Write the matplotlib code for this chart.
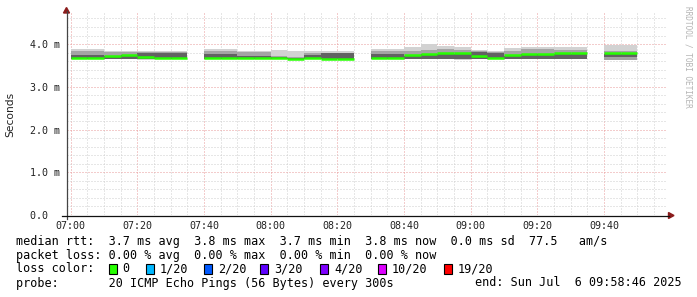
import numpy as np
import matplotlib
matplotlib.use("Agg")
import matplotlib.pyplot as plt
from matplotlib.lines import Line2D
from matplotlib.patches import Rectangle, Polygon

W, H, DPI = 697, 297, 100
nan = np.nan

# ---- data (5-minute bins, start times) ----
bin_start = ["07:00", "07:05", "07:10", "07:15", "07:20", "07:25", "07:30", "07:35",
             "07:40", "07:45", "07:50", "07:55", "08:00", "08:05", "08:10", "08:15",
             "08:20", "08:25", "08:30", "08:35", "08:40", "08:45", "08:50", "08:55",
             "09:00", "09:05", "09:10", "09:15", "09:20", "09:25", "09:30", "09:35",
             "09:40", "09:45"]
# values in ms
rtt_max = [3.88, 3.88, 3.83, 3.83, 3.83, 3.83, 3.83, nan,
           3.88, 3.88, 3.84, 3.84, 3.86, 3.83, 3.83, 3.83,
           3.83, nan, 3.88, 3.88, 3.93, 4.00, 3.95, 3.92,
           3.86, 3.83, 3.91, 3.93, 3.93, 3.92, 3.92, nan,
           3.97, 3.97]
rtt_upper = [3.83, 3.83, 3.81, 3.81, 3.81, 3.81, 3.81, nan,
             3.84, 3.84, 3.81, 3.81, 3.71, 3.70, 3.80, 3.80,
             3.80, nan, 3.84, 3.84, 3.84, 3.87, 3.89, 3.87,
             3.83, 3.81, 3.84, 3.89, 3.89, 3.86, 3.86, nan,
             3.84, 3.84]
rtt_core_hi = [3.75, 3.75, 3.73, 3.74, 3.79, 3.78, 3.78, nan,
               3.77, 3.77, 3.72, 3.72, 3.69, 3.68, 3.75, 3.78,
               3.78, nan, 3.77, 3.77, 3.72, 3.76, 3.77, 3.77,
               3.81, 3.80, 3.72, 3.76, 3.76, 3.77, 3.77, nan,
               3.77, 3.77]
rtt_core_lo = [3.655, 3.655, 3.655, 3.655, 3.655, 3.655, 3.655, nan,
               3.655, 3.655, 3.655, 3.655, 3.655, 3.655, 3.655, 3.655,
               3.655, nan, 3.655, 3.655, 3.655, 3.655, 3.655, 3.655,
               3.655, 3.655, 3.655, 3.655, 3.655, 3.655, 3.655, nan,
               3.70, 3.70]
rtt_lower = [3.645, 3.645, 3.645, 3.645, 3.645, 3.645, 3.645, nan,
             3.645, 3.645, 3.645, 3.645, 3.645, 3.645, 3.645, 3.645,
             3.645, nan, 3.645, 3.645, 3.645, 3.645, 3.645, 3.64,
             3.645, 3.645, 3.645, 3.645, 3.645, 3.645, 3.645, nan,
             3.635, 3.635]
rtt_min = [3.64, 3.64, 3.64, 3.64, 3.635, 3.64, 3.64, nan,
           3.64, 3.64, 3.64, 3.64, 3.64, 3.64, 3.64, 3.64,
           3.64, nan, 3.64, 3.64, 3.645, 3.645, 3.645, 3.633,
           3.64, 3.64, 3.645, 3.64, 3.64, 3.64, 3.64, nan,
           3.633, 3.633]
rtt_median = [3.67, 3.67, 3.73, 3.755, 3.70, 3.67, 3.67, nan,
              3.67, 3.67, 3.67, 3.67, 3.665, 3.66, 3.665, 3.655,
              3.655, nan, 3.67, 3.67, 3.746, 3.775, 3.79, 3.79,
              3.71, 3.67, 3.745, 3.775, 3.775, 3.78, 3.78, nan,
              3.79, 3.79]

x_tick_labels = ["07:00", "07:20", "07:40", "08:00", "08:20", "08:40", "09:00", "09:20", "09:40"]
y_tick_values = [0.0, 1.0, 2.0, 3.0, 4.0]
y_tick_labels = ["0.0  ", "1.0 m", "2.0 m", "3.0 m", "4.0 m"]

loss_labels = ["0", "1/20", "2/20", "3/20", "4/20", "10/20", "19/20"]
loss_colors = ["#26ff00", "#00b8ff", "#0059ff", "#5e00ff", "#7e00ff", "#dd00ff", "#ff0000"]

legend_lines = [
    "median rtt:  3.7 ms avg  3.8 ms max  3.7 ms min  3.8 ms now  0.0 ms sd  77.5   am/s",
    "packet loss: 0.00 % avg  0.00 % max  0.00 % min  0.00 % now",
]
probe_text = "probe:       20 ICMP Echo Pings (56 Bytes) every 300s"
end_text = "end: Sun Jul  6 09:58:46 2025"

# ---- helpers ----
def to_min(s):
    h, m = s.split(":")
    return (int(h) - 7) * 60 + int(m)

def fx(px):
    return px / W

def fy(py):
    return 1 - py / H

MONO = "DejaVu Sans Mono"

fig = plt.figure(figsize=(W / DPI, H / DPI), dpi=DPI)
fig.patch.set_facecolor("white")
ax = fig.add_axes([fx(66.5), fy(215), 600 / W, 203 / H])
ax.set_facecolor("white")

x = np.array([to_min(s) for s in bin_start], dtype=float)
arr = lambda a: np.array(a, dtype=float)
mx, up, chi, clo, lo, mn, med = map(arr, [rtt_max, rtt_upper, rtt_core_hi, rtt_core_lo,
                                         rtt_lower, rtt_min, rtt_median])
m = ~np.isnan(med)
step = 5.0

ax.bar(x[m], (mx - mn)[m], bottom=mn[m], width=step, align="edge",
       color="#d2d2d2", linewidth=0, antialiased=False, zorder=2)
ax.bar(x[m], (up - lo)[m], bottom=lo[m], width=step, align="edge",
       color="#a4a4a4", linewidth=0, antialiased=False, zorder=3)
ax.bar(x[m], (chi - clo)[m], bottom=clo[m], width=step, align="edge",
       color="#626262", linewidth=0, antialiased=False, zorder=4)
ax.hlines(med[m], x[m], x[m] + step, color="#26ff00", linewidth=1.8, zorder=5)

# axes limits
x0 = -(1 + 14 / 60)
ax.set_xlim(x0, x0 + 180)
ax.set_ylim(0, 4.75)

# grid
ax.set_xticks([to_min(s) for s in x_tick_labels])
ax.set_xticks(np.arange(0, 180, 5), minor=True)
ax.set_yticks(y_tick_values)
ax.set_yticks(np.arange(0, 4.75, 0.2), minor=True)
ax.grid(which="minor", color="#cfcfcf", linestyle=(0, (1, 2)), linewidth=0.72, zorder=1)
ax.grid(which="major", color="#e89a9a", linestyle=(0, (1, 2)), linewidth=0.72, zorder=1)
ax.set_axisbelow(True)

ax.set_xticklabels(x_tick_labels, family=MONO, fontsize=7.2, color="#222222")
ax.set_yticklabels(y_tick_labels, family=MONO, fontsize=7.2, color="#222222")
ax.tick_params(axis="both", which="both", length=0)
ax.tick_params(axis="x", pad=4.5)
ax.tick_params(axis="y", pad=5)
for sp in ax.spines.values():
    sp.set_visible(False)

# axis lines with arrows
fig.add_artist(Line2D([fx(66.5), fx(66.5)], [fy(219), fy(11)], color="#444444",
                      linewidth=0.9, transform=fig.transFigure))
fig.add_artist(Line2D([fx(62), fx(669)], [fy(215.5), fy(215.5)], color="#111111",
                      linewidth=0.9, transform=fig.transFigure))
fig.add_artist(Polygon([(fx(63.5), fy(13)), (fx(69.5), fy(13)), (fx(66.5), fy(7.5))],
                       closed=True, color="#8b1c1c", transform=fig.transFigure))
fig.add_artist(Polygon([(fx(668.5), fy(212.5)), (fx(668.5), fy(218.5)), (fx(674), fy(215.5))],
                       closed=True, color="#8b1c1c", transform=fig.transFigure))

# y axis title
fig.text(fx(10.5), fy(114), "Seconds", rotation=90, ha="center", va="center",
         family="DejaVu Sans", fontsize=7.7, color="#222222")

# right side watermark
fig.text(fx(688), fy(6), "RRDTOOL / TOBI OETIKER", rotation=270, ha="center", va="top",
         family=MONO, fontsize=5.6, color="#b4b4b4")

# legend
LFS = 8.5
row_y = [241, 255, 269, 283]
for i, line in enumerate(legend_lines):
    fig.text(fx(16), fy(row_y[i]), line, ha="left", va="center", family=MONO,
             fontsize=LFS, color="black")

fig.text(fx(16), fy(row_y[2]), "loss color:", ha="left", va="center", family=MONO,
         fontsize=LFS, color="black")
box_x = [108.6, 146, 203.8, 260, 320, 378, 443.7]
for bx, lab, col in zip(box_x, loss_labels, loss_colors):
    fig.add_artist(Rectangle((fx(bx), fy(row_y[2] + 5)), 8 / W, 10 / H, facecolor=col,
                             edgecolor="black", linewidth=0.8, transform=fig.transFigure))
    fig.text(fx(bx + 14), fy(row_y[2]), lab, ha="left", va="center", family=MONO,
             fontsize=LFS, color="black")

fig.text(fx(16), fy(row_y[3]), probe_text, ha="left", va="center", family=MONO,
         fontsize=LFS, color="black")
fig.text(fx(681.5), fy(row_y[3]), end_text, ha="right", va="center", family=MONO,
         fontsize=LFS, color="black")

fig.savefig("out.png", dpi=DPI, facecolor="white")
